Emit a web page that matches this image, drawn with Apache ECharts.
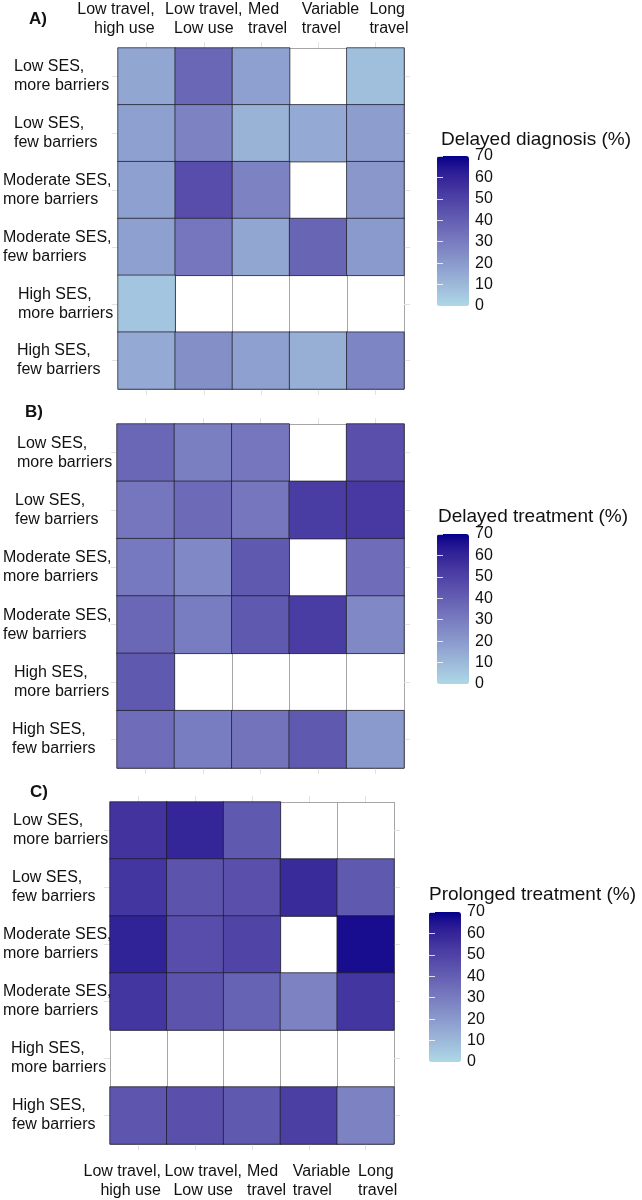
<!DOCTYPE html>
<html><head><meta charset="utf-8">
<script src="https://cdn.jsdelivr.net/npm/echarts@6/dist/echarts.min.js"></script>
<style>html,body{margin:0;padding:0;background:#fff}#chart{width:642px;height:1200px}</style>
</head><body><div id="chart"></div>
<script>
// ---------------- data ----------------
const columns = ['Low travel,\nhigh use', 'Low travel,\nLow use', 'Med\ntravel', 'Variable\ntravel', 'Long\ntravel'];
const rowsAB = ['Low SES,\nmore barriers', 'Low SES,\nfew barriers', 'Moderate SES,\nmore barriers', 'Moderate SES,\nfew barriers', 'High SES,\nmore barriers', 'High SES,\nfew barriers'];
const rowsC = ['Low SES,\nmore barriers', 'Low SES,\nfew barriers', 'Moderate SES,\nmore barriers', 'Moderate SES,\nmore barriers', 'High SES,\nmore barriers', 'High SES,\nfew barriers'];
const delayedDiagnosis = [
  [16, 37, 18, null, 8],
  [18, 28, 12, 15, 19],
  [18, 46, 28, null, 21],
  [18, 32, 16, 38, 20],
  [6, null, null, null, null],
  [15, 24, 18, 13, 27]
];
const delayedTreatment = [
  [37, 29, 32, null, 45],
  [32, 36, 32, 52, 53],
  [31, 26, 42, null, 35],
  [37, 30, 42, 52, 26],
  [42, null, null, null, null],
  [35, 30, 33, 42, 20]
];
const prolongedTreatment = [
  [55, 60, 42, null, null],
  [54, 44, 45, 58, 42],
  [61, 46, 49, null, 67],
  [54, 44, 39, 28, 54],
  [null, null, null, null, null],
  [43, 45, 42, 51, 28]
];
const panelLetters = ['A)', 'B)', 'C)'];
const legendTitles = ['Delayed diagnosis (%)', 'Delayed treatment (%)', 'Prolonged treatment (%)'];
const scaleMin = 0, scaleMax = 70, scaleStep = 10;
const lowColor = '#ADD8E6', highColor = '#00008B';

// ---------------- colour ramp (Lab interpolation) ----------------
function lin(c){c/=255;return c<=0.04045?c/12.92:Math.pow((c+0.055)/1.055,2.4);}
function unlin(c){c=c<=0.0031308?12.92*c:1.055*Math.pow(c,1/2.4)-0.055;return Math.round(Math.max(0,Math.min(1,c))*255);}
function hexToLab(h){
  const r=lin(parseInt(h.substr(1,2),16)),g=lin(parseInt(h.substr(3,2),16)),b=lin(parseInt(h.substr(5,2),16));
  const X=(0.4124*r+0.3576*g+0.1805*b)/0.95047,Y=0.2126*r+0.7152*g+0.0722*b,Z=(0.0193*r+0.1192*g+0.9505*b)/1.08883;
  const f=t=>t>0.008856?Math.cbrt(t):7.787*t+16/116;
  const fx=f(X),fy=f(Y),fz=f(Z);
  return [116*fy-16,500*(fx-fy),200*(fy-fz)];
}
function labToHex(L,a,bb){
  const fy=(L+16)/116,fx=fy+a/500,fz=fy-bb/200;
  const inv=t=>t>0.206893?t*t*t:(t-16/116)/7.787;
  const X=inv(fx)*0.95047,Y=inv(fy),Z=inv(fz)*1.08883;
  const r=3.2406*X-1.5372*Y-0.4986*Z,g=-0.9689*X+1.8758*Y+0.0415*Z,b=0.0557*X-0.2040*Y+1.0570*Z;
  return '#'+[unlin(r),unlin(g),unlin(b)].map(v=>v.toString(16).padStart(2,'0')).join('');
}
const labLo=hexToLab(lowColor), labHi=hexToLab(highColor);
const ramp=[];
for(let i=0;i<=28;i++){const t=i/28;ramp.push(labToHex(labLo[0]+(labHi[0]-labLo[0])*t,labLo[1]+(labHi[1]-labLo[1])*t,labLo[2]+(labHi[2]-labLo[2])*t));}

// ---------------- layout ----------------
const FONT = '"Liberation Sans", Arial, sans-serif';
const TXT = '#111111';
const panels = [
  {grid:{left:117, top:46, width:287, height:343}, rows:rowsAB, values:delayedDiagnosis, indent:[11,11,0,0,15,14], yMargin:115,
   letter:{left:29, top:11}, legend:{left:437, top:156, titleLeft:441, titleTop:130}},
  {grid:{left:117, top:424, width:287, height:344}, rows:rowsAB, values:delayedTreatment, indent:[14,12,0,0,11,9], yMargin:114,
   letter:{left:25, top:404}, legend:{left:437, top:534, titleLeft:438, titleTop:507}},
  {grid:{left:110, top:802, width:284, height:343}, rows:rowsC, values:prolongedTreatment, indent:[10,9,0,0,8,9], yMargin:107,
   letter:{left:30, top:784}, legend:{left:429, top:912, titleLeft:429, titleTop:885}}
];
const topLabelStyle = [{k:'R',w:16},{k:'C'},{k:'L',w:26},{k:'L',w:33},{k:'L',w:12}];
const bottomLabelStyle = [{k:'R',w:45},{k:'S',w:16},{k:'L',w:10},{k:'L',w:32},{k:'L',w:15}];

const base = {fontSize:16, fontFamily:FONT, color:TXT, lineHeight:19};
function richFor(styles){
  const rich={t:Object.assign({},base)};
  styles.forEach(s=>{
    if(s.k==='R') rich['r'+s.w]=Object.assign({},base,{width:s.w,align:'right'});
    if(s.k==='L') rich['l'+s.w]=Object.assign({},base,{width:s.w,align:'left'});
    if(s.k==='S') rich['s'+s.w]=Object.assign({},base,{width:s.w});
  });
  return rich;
}
function xFormatter(styles){
  return function(value, idx){
    const s=styles[idx]; const lines=String(value).split('\n');
    if(s.k==='C') return lines.map(l=>'{t|'+l+'}').join('\n');
    if(s.k==='R') return lines.map(l=>'{r'+s.w+'|'+l+'}').join('\n');
    if(s.k==='L') return lines.map(l=>'{l'+s.w+'|'+l+'}').join('\n');
    return lines.map(l=>'{s'+s.w+'| }{t|'+l+'}').join('\n');
  };
}
function yRich(indent){
  const rich={t:Object.assign({},base,{align:'left'})};
  indent.forEach(w=>{ if(w>0) rich['i'+w]=Object.assign({},base,{width:w,align:'left'}); });
  return rich;
}
function yFormatter(indent){
  return function(value, idx){
    const w=indent[idx];
    return String(value).split('\n').map(l=>(w>0?'{i'+w+'| }':'')+'{t|'+l+'}').join('\n');
  };
}

const tickStyle = {show:true, alignWithLabel:true, interval:0, length:6, lineStyle:{color:'#e2e2e2', width:1}};
const splitStyle = {show:true, interval:0, lineStyle:{color:'#a6a6a6', width:1}};

const grid=[], xAxis=[], yAxis=[], series=[], visualMap=[], title=[];
panels.forEach((p,i)=>{
  grid.push(Object.assign({containLabel:false}, p.grid));
  let xLabel={show:false};
  if(i===0) xLabel={show:true, interval:0, margin:10, formatter:xFormatter(topLabelStyle), rich:richFor(topLabelStyle), lineHeight:19, fontSize:16, fontFamily:FONT, color:TXT};
  if(i===2) xLabel={show:true, interval:0, margin:18, formatter:xFormatter(bottomLabelStyle), rich:richFor(bottomLabelStyle), lineHeight:19, fontSize:16, fontFamily:FONT, color:TXT};
  xAxis.push({type:'category', gridIndex:i, data:columns, position:i===2?'bottom':'top', axisLine:{show:false}, axisTick:tickStyle, axisLabel:xLabel, splitLine:splitStyle});
  xAxis.push({type:'category', gridIndex:i, data:columns, position:i===2?'top':'bottom', axisLine:{show:false}, axisTick:tickStyle, axisLabel:{show:false}, splitLine:{show:false}});
  yAxis.push({type:'category', gridIndex:i, data:p.rows, inverse:true, position:'left', axisLine:{show:false}, axisTick:tickStyle,
    axisLabel:{show:true, interval:0, align:'left', margin:p.yMargin, formatter:yFormatter(p.indent), rich:yRich(p.indent), fontSize:16, lineHeight:19, fontFamily:FONT, color:TXT},
    splitLine:splitStyle});
  yAxis.push({type:'category', gridIndex:i, data:p.rows, inverse:true, position:'right', axisLine:{show:false}, axisTick:tickStyle, axisLabel:{show:false}, splitLine:{show:false}});
  const data=[];
  p.values.forEach((row,r)=>row.forEach((v,c)=>data.push([c,r,v==null?'-':v])));
  series.push({type:'heatmap', xAxisIndex:i*2, yAxisIndex:i*2, data:data,
    itemStyle:{borderColor:'rgba(30,30,40,0.75)', borderWidth:1}, emphasis:{disabled:true}, silent:true});
  visualMap.push({type:'continuous', seriesIndex:i, dimension:2, min:scaleMin, max:scaleMax, calculable:false, realtime:false,
    inRange:{color:ramp}, itemWidth:32, itemHeight:150, left:p.legend.left, top:p.legend.top, padding:0, text:null, hoverLink:false, orient:'vertical'});
  title.push({text:panelLetters[i], left:p.letter.left, top:p.letter.top, padding:0, textStyle:{fontSize:17, fontWeight:'bold', fontFamily:FONT, color:TXT}});
  title.push({text:legendTitles[i], left:p.legend.titleLeft, top:p.legend.titleTop, padding:0, textStyle:{fontSize:19, fontWeight:'normal', fontFamily:FONT, color:TXT}});
});
// legend tick-label grids aligned with the colour bars
panels.forEach((p,i)=>{
  const gi=3+i;
  grid.push({left:p.legend.left, top:p.legend.top, width:32, height:150});
  xAxis.push({type:'value', gridIndex:gi, show:false, min:0, max:1});
  yAxis.push({type:'value', gridIndex:gi, min:scaleMin, max:scaleMax, interval:scaleStep, position:'right', z:10,
    axisLine:{show:false}, splitLine:{show:false},
    axisTick:{show:true, inside:true, length:6, lineStyle:{color:'rgba(255,255,255,0.8)', width:1}},
    axisLabel:{show:true, margin:6, fontSize:16, fontFamily:FONT, color:TXT}});
  yAxis.push({type:'value', gridIndex:gi, min:scaleMin, max:scaleMax, interval:scaleStep, position:'left', z:10,
    axisLine:{show:false}, splitLine:{show:false},
    axisTick:{show:true, inside:true, length:6, lineStyle:{color:'rgba(255,255,255,0.8)', width:1}},
    axisLabel:{show:false}});
});

const chart = echarts.init(document.getElementById('chart'), null, {renderer:'canvas'});
chart.setOption({animation:false, backgroundColor:'#ffffff', title, grid, xAxis, yAxis, visualMap, series});
</script></body></html>
